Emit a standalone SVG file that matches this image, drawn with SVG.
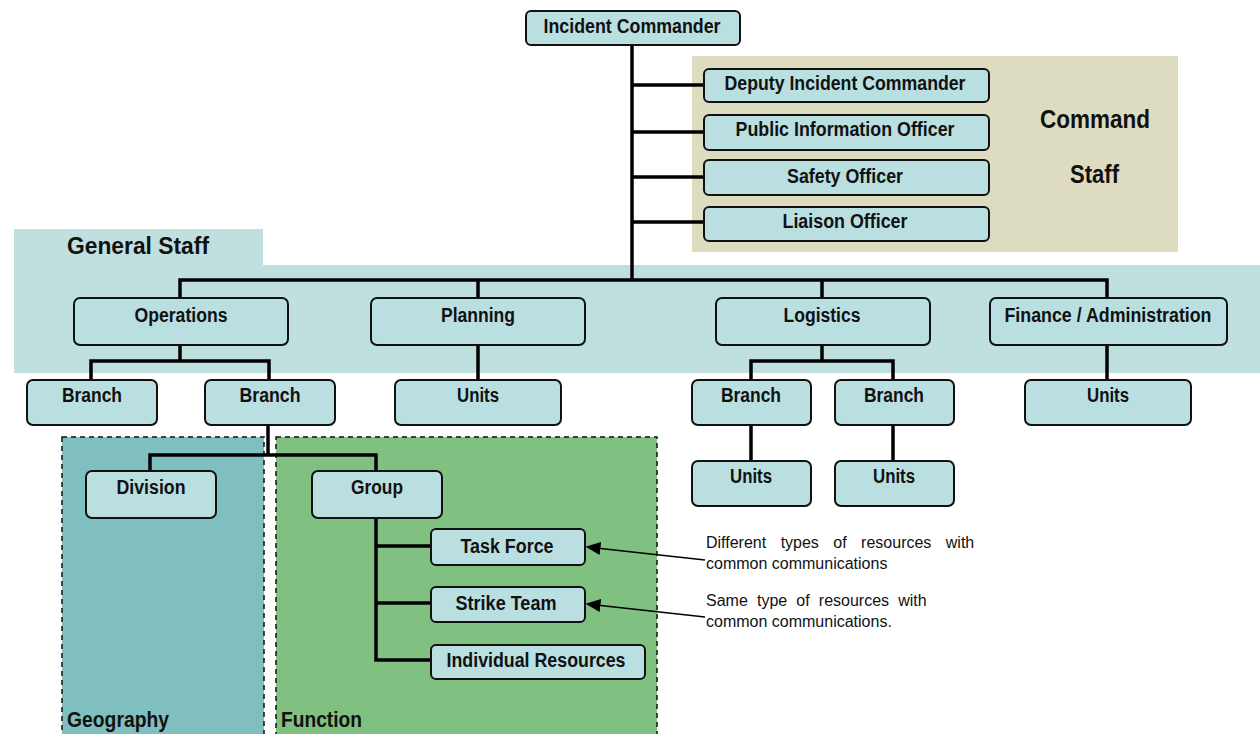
<svg xmlns="http://www.w3.org/2000/svg" width="1260" height="734" viewBox="0 0 1260 734">
<style>
.n rect{fill:#b9dfe1;stroke:#111;stroke-width:2}
.n text{font-family:"Liberation Sans",Arial,sans-serif;font-weight:bold;font-size:20px;fill:#111;text-anchor:middle}
.big{font-family:"Liberation Sans",Arial,sans-serif;font-weight:bold;fill:#111}
.note{font-family:"Liberation Sans",Arial,sans-serif;font-size:16px;fill:#111}
#connectors path{fill:none;stroke:#000;stroke-width:3.5}
#notes line{stroke:#000;stroke-width:1.5}
</style>
<defs>
<marker id="ah" viewBox="0 0 10 10" refX="9" refY="5" markerWidth="15" markerHeight="13" markerUnits="userSpaceOnUse" orient="auto-start-reverse" preserveAspectRatio="none">
<path d="M0,0 L10,5 L0,10 z" fill="#000"/>
</marker>
</defs>
<rect width="1260" height="734" fill="#fff"/>
<g id="backgrounds">
<rect x="692" y="56" width="486" height="196" fill="#dedcc0"/>
<path d="M14,229 H263 V265 H1260 V373 H14 z" fill="#c0dfdf"/>
<rect x="62" y="437" width="202" height="300" fill="#80bfbf" stroke="#111" stroke-width="1.5" stroke-dasharray="5,4"/>
<rect x="276" y="437" width="381" height="300" fill="#80c080" stroke="#111" stroke-width="1.5" stroke-dasharray="5,4"/>
<text class="big" x="1040" y="128" font-size="26" textLength="110" lengthAdjust="spacingAndGlyphs">Command</text>
<text class="big" x="1070" y="183" font-size="26" textLength="49" lengthAdjust="spacingAndGlyphs">Staff</text>
<text class="big" x="67" y="254" font-size="24" textLength="142" lengthAdjust="spacingAndGlyphs">General Staff</text>
<text class="big" x="67" y="727" font-size="22" textLength="102" lengthAdjust="spacingAndGlyphs">Geography</text>
<text class="big" x="281" y="727" font-size="22" textLength="81" lengthAdjust="spacingAndGlyphs">Function</text>
</g>
<g id="connectors">
<path d="M632,45 V280"/>
<path d="M632,85 H704 M632,132 H704 M632,177 H704 M632,222 H704"/>
<path d="M180,298 V280 H1107 V298 M478,280 V298 M822,280 V298"/>
<path d="M180,345 V361 M91,380 V361 H269 V380"/>
<path d="M478,345 V380"/>
<path d="M822,345 V361 M751,380 V361 H893 V380"/>
<path d="M751,425 V461 M893,425 V461"/>
<path d="M1107,345 V380"/>
<path d="M268,425 V455 M150,471 V455 H376 V471"/>
<path d="M376,518 V660 H431 M376,546 H431 M376,603 H431"/>
</g>
<g id="n-ic" class="n"><rect x="526" y="11" width="214" height="34" rx="5"/><text x="632" y="33" textLength="177" lengthAdjust="spacingAndGlyphs">Incident Commander</text></g>
<g id="n-deputy" class="n"><rect x="704" y="69" width="285" height="33" rx="5"/><text x="845" y="90" textLength="241" lengthAdjust="spacingAndGlyphs">Deputy Incident Commander</text></g>
<g id="n-pio" class="n"><rect x="704" y="115" width="285" height="35" rx="5"/><text x="845" y="136" textLength="219" lengthAdjust="spacingAndGlyphs">Public Information Officer</text></g>
<g id="n-safety" class="n"><rect x="704" y="160" width="285" height="35" rx="5"/><text x="845" y="183" textLength="116" lengthAdjust="spacingAndGlyphs">Safety Officer</text></g>
<g id="n-liaison" class="n"><rect x="704" y="207" width="285" height="34" rx="5"/><text x="845" y="228" textLength="125" lengthAdjust="spacingAndGlyphs">Liaison Officer</text></g>
<g id="n-ops" class="n"><rect x="74" y="298" width="214" height="47" rx="6"/><text x="181" y="322" textLength="93" lengthAdjust="spacingAndGlyphs">Operations</text></g>
<g id="n-plan" class="n"><rect x="371" y="298" width="214" height="47" rx="6"/><text x="478" y="322" textLength="74" lengthAdjust="spacingAndGlyphs">Planning</text></g>
<g id="n-log" class="n"><rect x="716" y="298" width="214" height="47" rx="6"/><text x="822" y="322" textLength="77" lengthAdjust="spacingAndGlyphs">Logistics</text></g>
<g id="n-fin" class="n"><rect x="990" y="298" width="237" height="47" rx="6"/><text x="1108" y="322" textLength="207" lengthAdjust="spacingAndGlyphs">Finance / Administration</text></g>
<g id="n-branch1" class="n"><rect x="27" y="380" width="130" height="45" rx="6"/><text x="92" y="402" textLength="60" lengthAdjust="spacingAndGlyphs">Branch</text></g>
<g id="n-branch2" class="n"><rect x="205" y="380" width="130" height="45" rx="6"/><text x="270" y="402" textLength="61" lengthAdjust="spacingAndGlyphs">Branch</text></g>
<g id="n-plan-units" class="n"><rect x="395" y="380" width="166" height="45" rx="6"/><text x="478" y="402" textLength="42" lengthAdjust="spacingAndGlyphs">Units</text></g>
<g id="n-log-branch1" class="n"><rect x="692" y="380" width="119" height="45" rx="6"/><text x="751" y="402" textLength="60" lengthAdjust="spacingAndGlyphs">Branch</text></g>
<g id="n-log-branch2" class="n"><rect x="835" y="380" width="119" height="45" rx="6"/><text x="894" y="402" textLength="60" lengthAdjust="spacingAndGlyphs">Branch</text></g>
<g id="n-fin-units" class="n"><rect x="1025" y="380" width="166" height="45" rx="6"/><text x="1108" y="402" textLength="42" lengthAdjust="spacingAndGlyphs">Units</text></g>
<g id="n-log-units1" class="n"><rect x="692" y="461" width="119" height="45" rx="6"/><text x="751" y="483" textLength="42" lengthAdjust="spacingAndGlyphs">Units</text></g>
<g id="n-log-units2" class="n"><rect x="835" y="461" width="119" height="45" rx="6"/><text x="894" y="483" textLength="42" lengthAdjust="spacingAndGlyphs">Units</text></g>
<g id="n-division" class="n"><rect x="86" y="471" width="130" height="47" rx="6"/><text x="151" y="494" textLength="69" lengthAdjust="spacingAndGlyphs">Division</text></g>
<g id="n-group" class="n"><rect x="312" y="471" width="130" height="47" rx="6"/><text x="377" y="494" textLength="52" lengthAdjust="spacingAndGlyphs">Group</text></g>
<g id="n-task" class="n"><rect x="431" y="529" width="154" height="36" rx="5"/><text x="507" y="553" textLength="93" lengthAdjust="spacingAndGlyphs">Task Force</text></g>
<g id="n-strike" class="n"><rect x="431" y="587" width="154" height="35" rx="5"/><text x="506" y="610" textLength="101" lengthAdjust="spacingAndGlyphs">Strike Team</text></g>
<g id="n-indiv" class="n"><rect x="431" y="645" width="214" height="34" rx="5"/><text x="536" y="667" textLength="179" lengthAdjust="spacingAndGlyphs">Individual Resources</text></g>
<g id="notes">
<line x1="705" y1="560" x2="587" y2="547" marker-end="url(#ah)"/>
<line x1="705" y1="617" x2="587" y2="604" marker-end="url(#ah)"/>
<text class="note" x="706" y="548" word-spacing="10">Different types of resources with</text>
<text class="note" x="706" y="569">common communications</text>
<text class="note" x="706" y="606" word-spacing="4.7">Same type of resources with</text>
<text class="note" x="706" y="627">common communications.</text>
</g>
</svg>
